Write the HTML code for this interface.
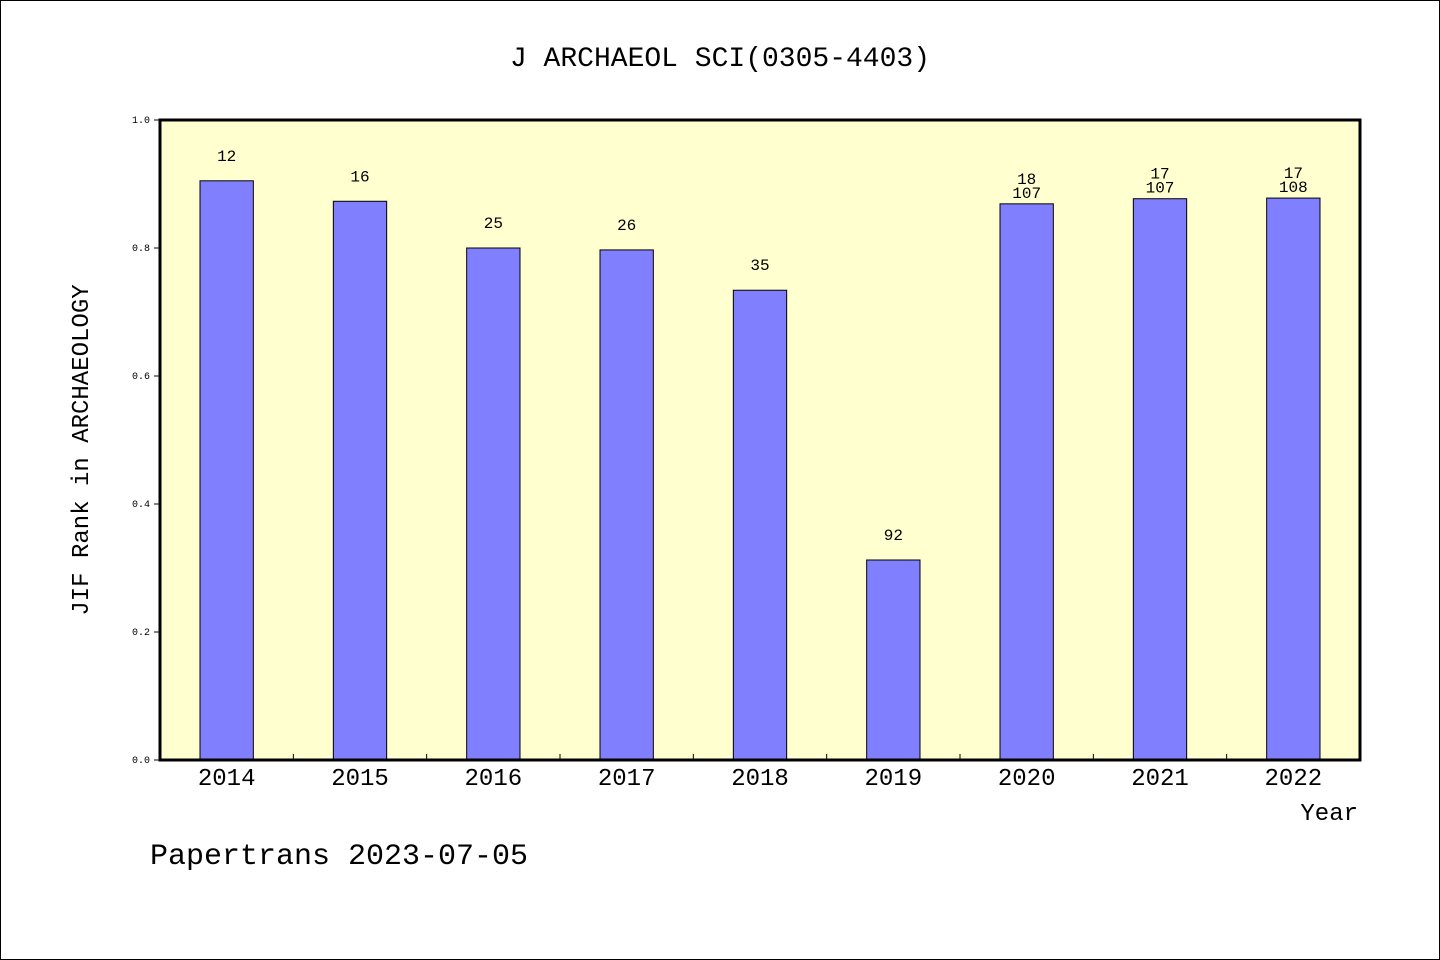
<!DOCTYPE html>
<html><head><meta charset="utf-8"><style>
html,body{margin:0;padding:0;background:#fff}
svg{display:block}
text{font-family:"WenQuanYi Zen Hei","Liberation Mono",monospace;fill:#000}
</style></head><body>
<svg id="chart" width="1440" height="960">
<rect x="0.5" y="0.5" width="1439" height="959" fill="#fff" stroke="#000"/>
<text x="720" y="66" font-size="28" text-anchor="middle">J ARCHAEOL SCI(0305-4403)</text>
<rect x="160" y="120" width="1200" height="640" fill="#ffffd0"/>
<g id="bars"></g>
<rect x="160" y="120" width="1200" height="640" fill="none" stroke="#000" stroke-width="3"/>
<text transform="translate(88,450) rotate(-90)" font-size="24" text-anchor="middle">JIF Rank in ARCHAEOLOGY</text>
<text x="1358" y="820" font-size="24" text-anchor="end">Year</text>
<text x="150" y="864" font-size="30">Papertrans 2023-07-05</text>
</svg>
<script>
const years=['2014','2015','2016','2017','2018','2019','2020','2021','2022'];
const values=[0.905,0.873,0.800,0.797,0.734,0.3125,0.869,0.877,0.878];
const rankLabels=['12','16','25','26','35','92','18','17','17'];
const totalLabels=['','','','','','','107','107','108'];
const yTicks=[0,0.2,0.4,0.6,0.8,1.0];
const yTickLabels=['0.0','0.2','0.4','0.6','0.8','1.0'];
const NS='http://www.w3.org/2000/svg';
const X0=160,W=1200,Y0=760,H=640;
const band=W/years.length;
const xs=i=>X0+band*(i+0.5);
const ys=v=>Y0-v*H;
const svg=document.getElementById('chart');
const g=document.getElementById('bars');
function mk(tag,at,parent){const e=document.createElementNS(NS,tag);for(const k in at)e.setAttribute(k,at[k]);(parent||svg).appendChild(e);return e;}
years.forEach((y,i)=>{
  const bw=band*0.4,top=ys(values[i]);
  const r=mk('rect',{x:xs(i)-bw/2,y:top,width:bw,height:Y0-top,fill:'#8080ff',stroke:'#000','stroke-width':1},g);
  
  
  if(totalLabels[i]){
    const t2=mk('text',{x:xs(i),y:top-6,'font-size':16,'text-anchor':'middle'},g);t2.textContent=totalLabels[i];
    
    
    const t1=mk('text',{x:xs(i),y:top-20,'font-size':16,'text-anchor':'middle'},g);t1.textContent=rankLabels[i];
    
    
  } else {
    const t1=mk('text',{x:xs(i),y:top-20,'font-size':16,'text-anchor':'middle'},g);t1.textContent=rankLabels[i];
    
    
  }
  const xl=mk('text',{x:xs(i),y:785,'font-size':24,'text-anchor':'middle'});xl.textContent=y;
  
  
  if(i>0){const tk=mk('line',{x1:X0+band*i,x2:X0+band*i,y1:Y0,y2:Y0-6,stroke:'#000'});
    
    }
});
yTicks.forEach((v,i)=>{
  const tk=mk('line',{x1:X0-6,x2:X0,y1:ys(v),y2:ys(v),stroke:'#000'});
  
  
  const t=mk('text',{x:X0-10,y:ys(v)+3,'font-size':10,'text-anchor':'end'});t.textContent=yTickLabels[i];
  
  
});
</script>
</body></html>
